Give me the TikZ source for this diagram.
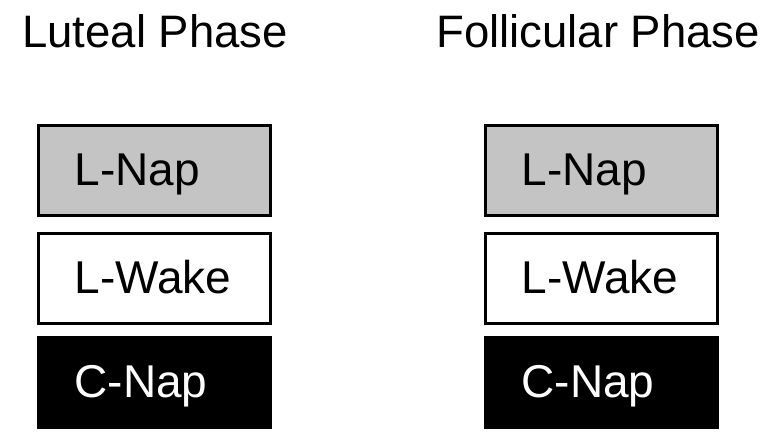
\documentclass[tikz,border=0pt]{standalone}
\usepackage{fontspec}
\setmainfont{Liberation Sans}
\definecolor{napgray}{RGB}{196,196,196}
\begin{document}
\begin{tikzpicture}[x=1pt,y=-1pt,
  phasebox/.style={draw=black, line width=3pt, minimum width=232pt, minimum height=90pt,
    inner xsep=36pt, inner ysep=0pt, text width=160pt, align=left,
    text height=33pt, text depth=4pt, font=\fontsize{46}{52}\selectfont},
  napbox/.style={phasebox, fill=napgray},
  wakebox/.style={phasebox, fill=white},
  cnapbox/.style={phasebox, fill=black, text=white},
  title/.style={anchor=base west, inner sep=0pt, font=\fontsize{45.5}{52}\selectfont}]
\useasboundingbox (0,0) rectangle (768,434);
\node[title] (t1) at (22,47) {Luteal Phase};
\node[title] (t2) at (436,47) {Follicular Phase};
\node[napbox]  (l1) at (154.5,170.5) {L-Nap};
\node[wakebox] (l2) at (154.5,278.5) {L-Wake};
\node[cnapbox] (l3) at (154.5,382.5) {C-Nap};
\node[napbox]  (r1) at (601.5,170.5) {L-Nap};
\node[wakebox] (r2) at (601.5,278.5) {L-Wake};
\node[cnapbox] (r3) at (601.5,382.5) {C-Nap};
\end{tikzpicture}
\end{document}
